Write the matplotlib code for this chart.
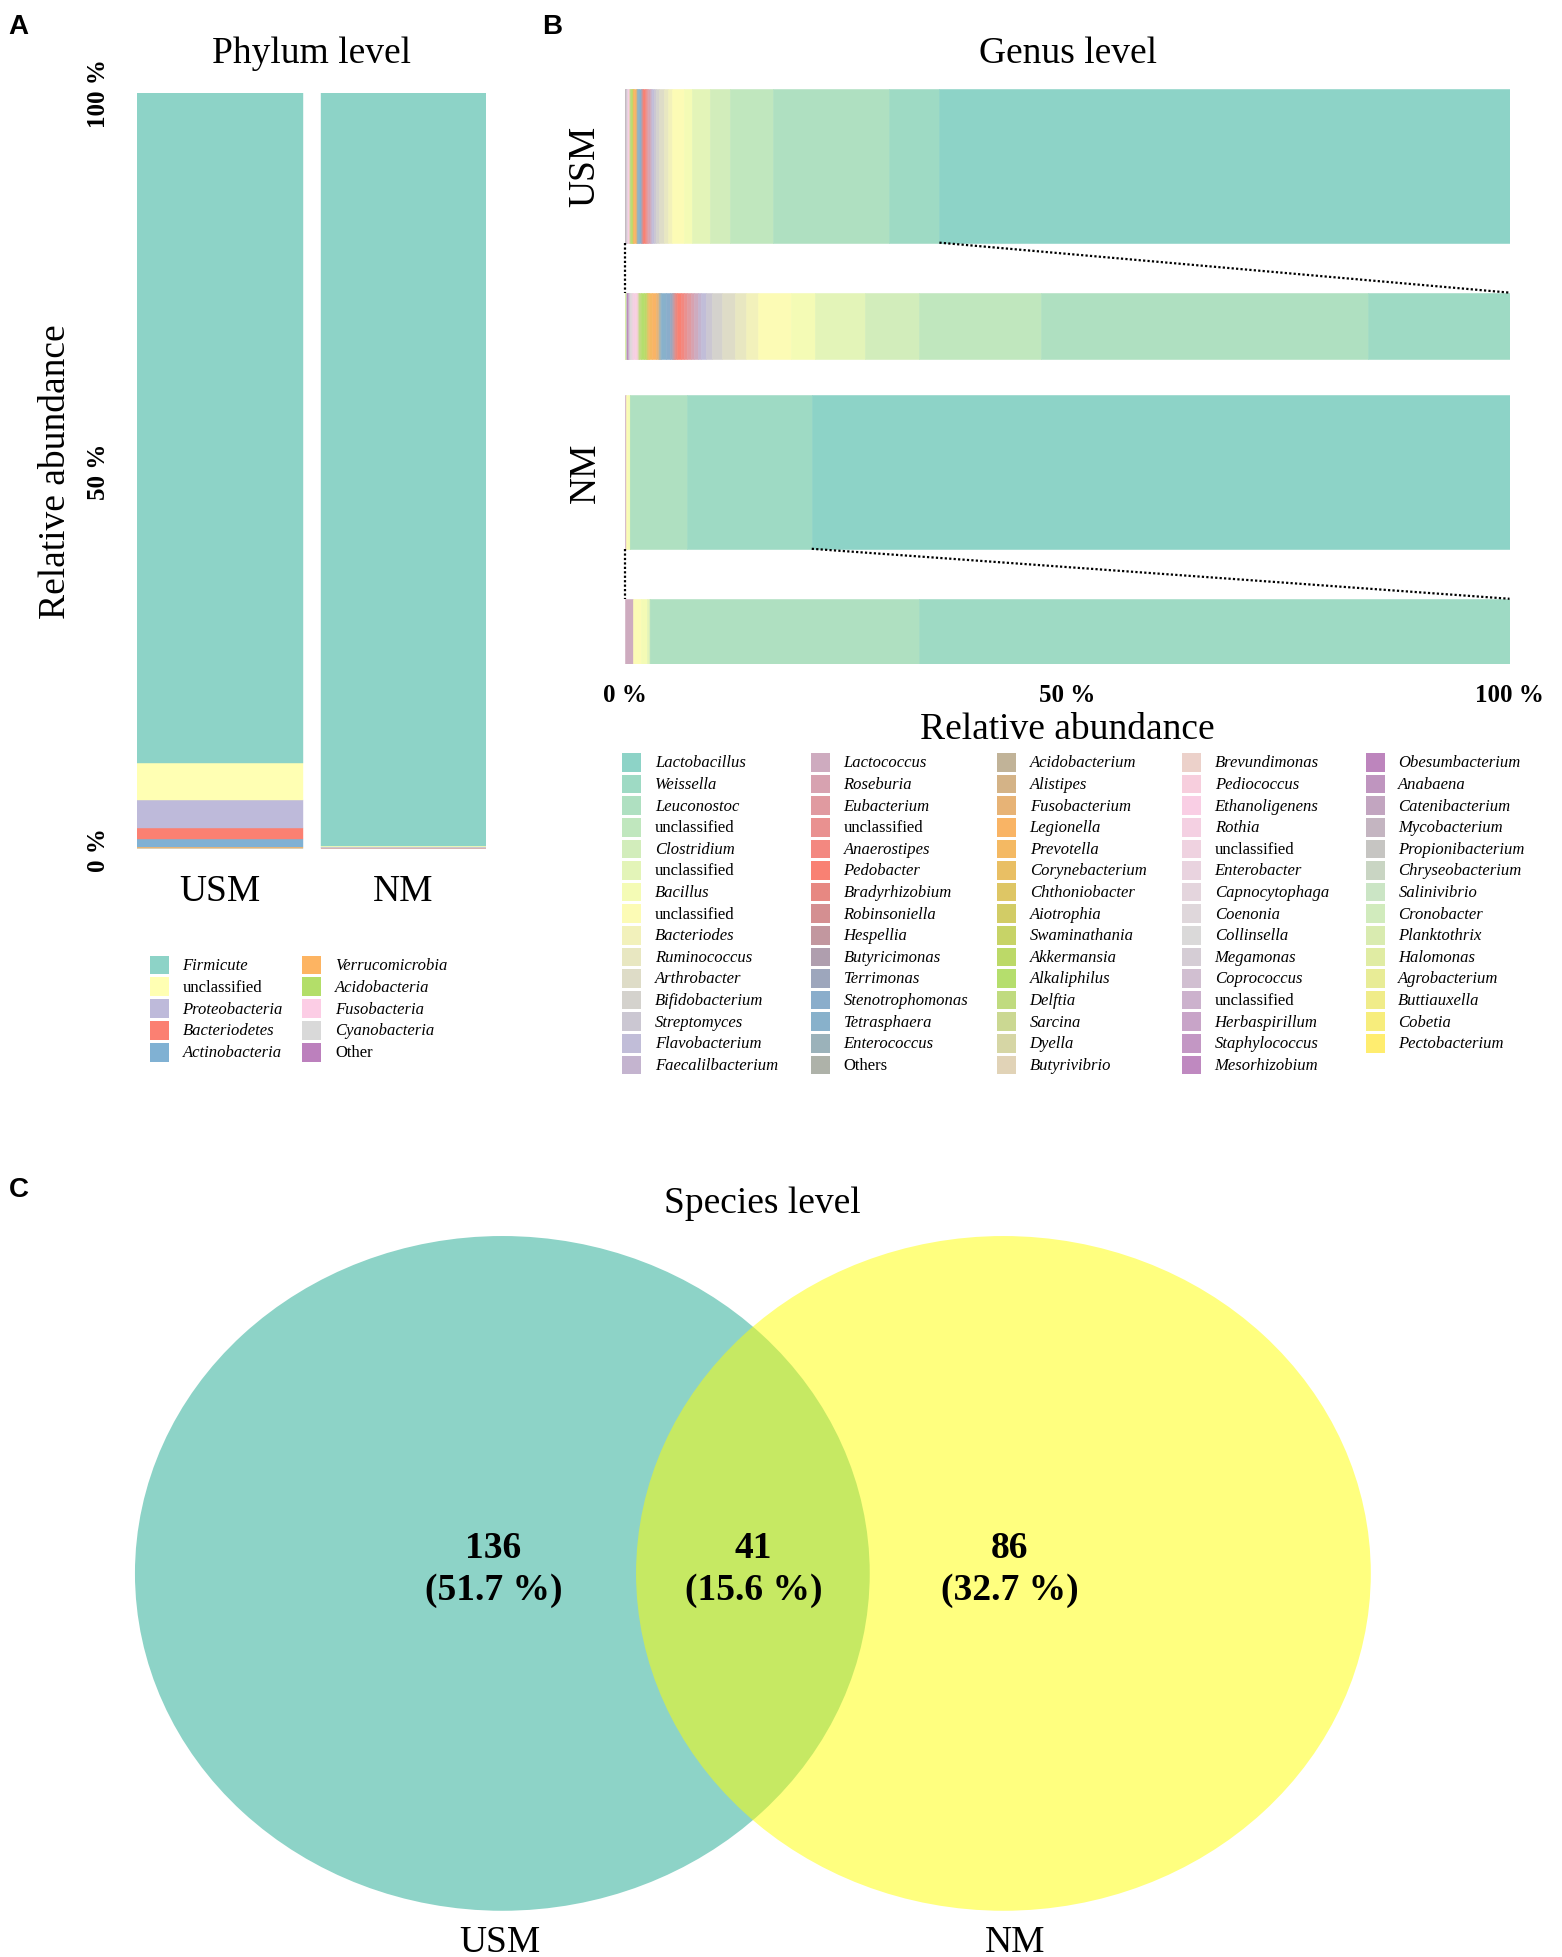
import numpy as np
import matplotlib
matplotlib.use("Agg")
import matplotlib.pyplot as plt
from matplotlib.colors import LinearSegmentedColormap
from matplotlib.patches import Rectangle, Ellipse

plt.rcParams['font.family'] = ['Liberation Serif', 'DejaVu Serif']

# ---------------- data ----------------
groups = ['USM', 'NM']

phyla = ['Firmicute', 'unclassified', 'Proteobacteria', 'Bacteriodetes', 'Actinobacteria',
         'Verrucomicrobia', 'Acidobacteria', 'Fusobacteria', 'Cyanobacteria', 'Other']
phylum_usm = [88.7, 4.8, 3.8, 1.4, 1.1, 0.1, 0.03, 0.03, 0.02, 0.02]
phylum_nm = [99.6, 0.2, 0.05, 0.04, 0.04, 0.02, 0.01, 0.02, 0.01, 0.01]

genera = ['Lactobacillus', 'Weissella', 'Leuconostoc', 'unclassified', 'Clostridium',
          'unclassified', 'Bacillus', 'unclassified', 'Bacteriodes', 'Ruminococcus',
          'Arthrobacter', 'Bifidobacterium', 'Streptomyces', 'Flavobacterium', 'Faecalilbacterium',
          'Lactococcus', 'Roseburia', 'Eubacterium', 'unclassified', 'Anaerostipes',
          'Pedobacter', 'Bradyrhizobium', 'Robinsoniella', 'Hespellia', 'Butyricimonas',
          'Terrimonas', 'Stenotrophomonas', 'Tetrasphaera', 'Enterococcus', 'Others',
          'Acidobacterium', 'Alistipes', 'Fusobacterium', 'Legionella', 'Prevotella',
          'Corynebacterium', 'Chthoniobacter', 'Aiotrophia', 'Swaminathania', 'Akkermansia',
          'Alkaliphilus', 'Delftia', 'Sarcina', 'Dyella', 'Butyrivibrio',
          'Brevundimonas', 'Pediococcus', 'Ethanoligenens', 'Rothia', 'unclassified',
          'Enterobacter', 'Capnocytophaga', 'Coenonia', 'Collinsella', 'Megamonas',
          'Coprococcus', 'unclassified', 'Herbaspirillum', 'Staphylococcus', 'Mesorhizobium',
          'Obesumbacterium', 'Anabaena', 'Catenibacterium', 'Mycobacterium', 'Propionibacterium',
          'Chryseobacterium', 'Salinivibrio', 'Cronobacter', 'Planktothrix', 'Halomonas',
          'Agrobacterium', 'Buttiauxella', 'Cobetia', 'Pectobacterium']

genus_usm = [64.4, 5.7, 13.1, 4.9, 2.2,
             2.0, 0.97, 1.3, 0.5, 0.45,
             0.5, 0.4, 0.25, 0.2, 0.12,
             0.15, 0.15, 0.15, 0.12, 0.12,
             0.15, 0.08, 0.06, 0.04, 0.04,
             0.06, 0.18, 0.18, 0.05, 0.03,
             0.03, 0.04, 0.08, 0.15, 0.12,
             0.05, 0.02, 0.02, 0.03, 0.08,
             0.12, 0.06, 0.03, 0.02, 0.02,
             0.03, 0.04, 0.05, 0.05, 0.04,
             0.03, 0.03, 0.02, 0.02, 0.02,
             0.02, 0.02, 0.01, 0.01, 0.01,
             0.01, 0.01, 0.01, 0.01, 0.01,
             0.01, 0.01, 0.01, 0.01, 0.005,
             0.005, 0.005, 0.005, 0.005]

genus_nm = [78.8, 14.1, 6.4, 0.02, 0.02,
            0.03, 0.15, 0.2, 0.0, 0.0,
            0.0, 0.0, 0.0, 0.0, 0.0,
            0.19, 0.0, 0.0, 0.0, 0.0,
            0.0, 0.0, 0.0, 0.0, 0.0,
            0.0, 0.0, 0.0, 0.0, 0.0,
            0.0, 0.0, 0.0, 0.0, 0.0,
            0.0, 0.0, 0.0, 0.0, 0.0,
            0.0, 0.0, 0.0, 0.0, 0.0,
            0.0, 0.0, 0.0, 0.0, 0.0,
            0.0, 0.0, 0.0, 0.0, 0.0,
            0.0, 0.0, 0.0, 0.0, 0.0,
            0.0, 0.0, 0.0, 0.0, 0.0,
            0.0, 0.0, 0.0, 0.0, 0.0,
            0.0, 0.0, 0.0, 0.0]

venn_labels = ['USM', 'NM']
venn_only_usm = 136
venn_shared = 41
venn_only_nm = 86

# ---------------- colours ----------------
set3 = ['#8dd3c7', '#ffffb3', '#bebada', '#fb8072', '#80b1d3', '#fdb462',
        '#b3de69', '#fccde5', '#d9d9d9', '#bc80bd', '#ccebc5', '#ffed6f']
phylum_colors = set3[:10]
ramp = LinearSegmentedColormap.from_list('set3ramp', set3, N=2048)
genus_colors = ramp(np.linspace(0, 1, len(genera)))

# ---------------- layout (reference frame 1250 x 1567) ----------------
W, H = 1250.0, 1567.0


def rect(x0, y0, x1, y1):
    return [x0 / W, 1 - y1 / H, (x1 - x0) / W, (y1 - y0) / H]


fig = plt.figure(figsize=(15.62, 19.58), dpi=100)

# background canvas for free text, legends and venn
cv = fig.add_axes([0, 0, 1, 1])
cv.set_xlim(0, W)
cv.set_ylim(H, 0)
cv.axis('off')

# ---------------- panel A ----------------
axA = fig.add_axes(rect(110, 75, 389, 680))
bottoms = np.zeros(2)
for i in reversed(range(len(phyla))):
    vals = np.array([phylum_usm[i], phylum_nm[i]])
    axA.bar([0, 1], vals, width=0.9, bottom=bottoms, color=phylum_colors[i],
            edgecolor=phylum_colors[i], linewidth=0.3)
    bottoms += vals
axA.set_xlim(-0.45, 1.45)
axA.set_ylim(0, 100)
for s in axA.spines.values():
    s.set_visible(False)
axA.set_xticks([0, 1])
axA.set_xticklabels(groups, fontsize=27)
axA.set_yticks([0, 50, 100])
axA.set_yticklabels(['0 %', '50 %', '100 %'], fontsize=18, fontweight='bold',
                    rotation=90, va='center')
axA.tick_params(axis='both', length=0)
axA.tick_params(axis='x', pad=18)
axA.tick_params(axis='y', pad=20)
axA.set_ylabel('Relative abundance', fontsize=27)
axA.yaxis.set_label_coords(-0.185, 0.5)

# ---------------- panel B ----------------
axB = fig.add_axes(rect(500, 72, 1208, 532))
axB.set_xlim(0, 100)
axB.set_ylim(460, 0)
rows = [(61.5, 123, 189.5, 53), (306.5, 123, 434.0, 52)]
for vals, (yc, h, yz, hz) in zip([genus_usm, genus_nm], rows):
    v = np.array(vals, dtype=float)
    rel = v / v.sum() * 100
    left = 0.0
    for i in reversed(range(len(genera))):
        if rel[i] > 0:
            axB.barh(yc, rel[i], height=h, left=left, color=genus_colors[i],
                     edgecolor=genus_colors[i], linewidth=0.4)
        left += rel[i]
    rest = rel[1:].sum()
    zr = rel / rest * 100
    left = 0.0
    for i in reversed(range(1, len(genera))):
        if zr[i] > 0:
            axB.barh(yz, zr[i], height=hz, left=left, color=genus_colors[i],
                     edgecolor=genus_colors[i], linewidth=0.4)
        left += zr[i]
    # connector lines
    ytop_end = yc + h / 2
    yzoom_top = yz - hz / 2
    axB.plot([rest, 100], [ytop_end, yzoom_top], color='black', lw=1.6,
             ls=(0, (1, 1)))
    axB.plot([0, 0], [ytop_end, yzoom_top], color='black', lw=1.6,
             ls=(0, (1, 1)), clip_on=False)
for s in axB.spines.values():
    s.set_visible(False)
axB.set_xticks([0, 50, 100])
axB.set_xticklabels(['0 %', '50 %', '100 %'], fontsize=18, fontweight='bold')
axB.set_yticks([rows[0][0], rows[1][0]])
axB.set_yticklabels(groups, fontsize=27, rotation=90, va='center')
axB.tick_params(axis='both', length=0)
axB.tick_params(axis='x', pad=14)
axB.tick_params(axis='y', pad=16)
axB.set_xlabel('Relative abundance', fontsize=27, labelpad=4)

# ---------------- titles and panel letters ----------------
cv.text(249, 43, 'Phylum level', fontsize=27, ha='center', va='center')
cv.text(855, 43, 'Genus level', fontsize=27, ha='center', va='center')
cv.text(610, 963, 'Species level', fontsize=27, ha='center', va='center')
for lab, (x, y) in zip(['A', 'B', 'C'], [(15, 22), (442, 22), (15, 952)]):
    cv.text(x, y, lab, fontsize=20, fontweight='bold', family='Liberation Sans',
            ha='center', va='center')


# ---------------- legends ----------------
def legend_block(labels, colors, x_cols, y0, dy, nrow, sq=15):
    for k, (lab, col) in enumerate(zip(labels, colors)):
        c, r = divmod(k, nrow)
        x = x_cols[c]
        y = y0 + r * dy
        cv.add_patch(Rectangle((x, y - sq / 2), sq, sq, facecolor=col, edgecolor='none'))
        style = 'normal' if lab in ('unclassified', 'Others', 'Other') else 'italic'
        cv.text(x + 26, y, lab, fontsize=12, style=style, ha='left', va='center')


legend_block(phyla, phylum_colors, [120, 242], 773, 17.5, 5)
legend_block(genera, genus_colors, [498, 649, 798, 946, 1093], 611, 17.29, 15)

# ---------------- panel C (venn) ----------------
total = venn_only_usm + venn_shared + venn_only_nm
cv.add_patch(Ellipse((402, 1260), 588, 540, facecolor='#8dd3c7', edgecolor='none'))
cv.add_patch(Ellipse((803, 1260), 588, 540, facecolor='#ffff00', alpha=0.5,
                     edgecolor='none'))
for n, x in zip([venn_only_usm, venn_shared, venn_only_nm], [395, 603, 808]):
    cv.text(x, 1256, '%d\n(%.1f %%)' % (n, n / total * 100), fontsize=27,
            fontweight='bold', ha='center', va='center', linespacing=1.25)
cv.text(400, 1555, venn_labels[0], fontsize=27, ha='center', va='center')
cv.text(812, 1555, venn_labels[1], fontsize=27, ha='center', va='center')

fig.savefig('out.png', dpi=100)
